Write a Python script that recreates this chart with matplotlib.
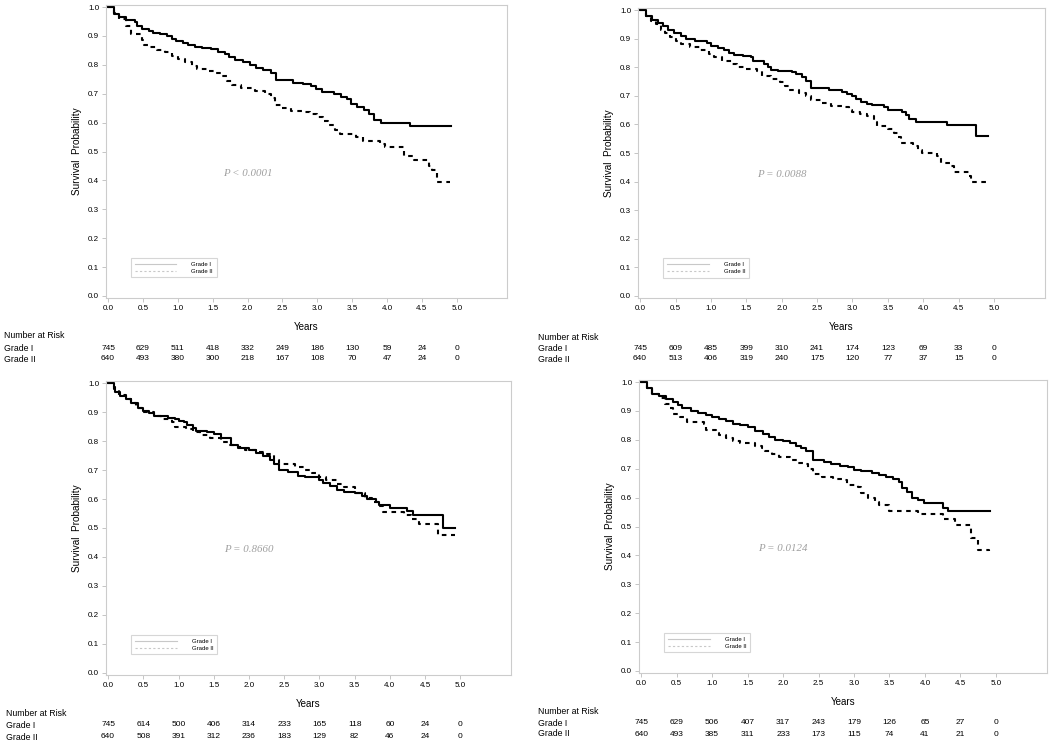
import matplotlib
matplotlib.use("Agg")
import matplotlib.pyplot as plt
import matplotlib.transforms as mtransforms
from matplotlib.lines import Line2D

plt.rcParams['font.family'] = ['Liberation Sans', 'DejaVu Sans']

W, H = 1050, 748

# ---- data ----
years = [0.0, 0.5, 1.0, 1.5, 2.0, 2.5, 3.0, 3.5, 4.0, 4.5, 5.0]
tick_labels = ['0.0', '0.5', '1.0', '1.5', '2.0', '2.5', '3.0', '3.5', '4.0', '4.5', '5.0']
ytick_vals = [0.0, 0.1, 0.2, 0.3, 0.4, 0.5, 0.6, 0.7, 0.8, 0.9, 1.0]
groups = ['Grade I', 'Grade II']
p_texts = ['P < 0.0001', 'P = 0.0088', 'P = 0.8660', 'P = 0.0124']

# panel A (top left)
a_g1_t = [0, 0.08, 0.16, 0.25, 0.39, 0.41, 0.48, 0.58, 0.65, 0.75, 0.84, 0.91, 0.98, 1.08, 1.15, 1.25,
          1.34, 1.48, 1.58, 1.67, 1.74, 1.82, 1.93, 2.03, 2.12, 2.22, 2.34, 2.41, 2.65, 2.79, 2.91,
          2.98, 3.07, 3.24, 3.34, 3.43, 3.48, 3.57, 3.67, 3.74, 3.81, 3.91, 4.33, 4.92]
a_g1_s = [1.0, 0.977, 0.965, 0.955, 0.948, 0.935, 0.925, 0.918, 0.91, 0.905, 0.898, 0.89, 0.883, 0.877,
          0.868, 0.862, 0.857, 0.853, 0.845, 0.838, 0.828, 0.818, 0.81, 0.80, 0.79, 0.782, 0.772,
          0.748, 0.738, 0.733, 0.725, 0.718, 0.705, 0.698, 0.69, 0.683, 0.663, 0.655, 0.645, 0.63,
          0.61, 0.60, 0.588, 0.588]
a_g2_t = [0, 0.08, 0.16, 0.25, 0.33, 0.48, 0.52, 0.58, 0.70, 0.82, 0.92, 1.0, 1.1, 1.2, 1.28, 1.45,
          1.55, 1.62, 1.70, 1.78, 1.9, 2.1, 2.25, 2.33, 2.4, 2.5, 2.62, 2.8, 2.9, 3.0, 3.08, 3.15,
          3.25, 3.33, 3.55, 3.65, 3.9, 3.97, 4.25, 4.38, 4.6, 4.65, 4.72, 4.9]
a_g2_s = [1.0, 0.98, 0.96, 0.935, 0.908, 0.885, 0.87, 0.86, 0.85, 0.845, 0.83, 0.82, 0.81, 0.795,
          0.785, 0.78, 0.77, 0.76, 0.745, 0.73, 0.72, 0.71, 0.70, 0.685, 0.66, 0.65, 0.64, 0.635,
          0.63, 0.62, 0.605, 0.59, 0.575, 0.56, 0.55, 0.535, 0.525, 0.515, 0.483, 0.47, 0.45,
          0.435, 0.395, 0.395]
a_risk1 = [745, 629, 511, 418, 332, 249, 186, 130, 59, 24, 0]
a_risk2 = [640, 493, 380, 300, 218, 167, 108, 70, 47, 24, 0]

# panel B (top right)
b_g1_t = [0, 0.08, 0.17, 0.25, 0.33, 0.40, 0.48, 0.58, 0.65, 0.78, 0.95, 1.0, 1.1, 1.18, 1.25, 1.32,
          1.45, 1.57, 1.6, 1.75, 1.8, 1.85, 1.95, 2.15, 2.2, 2.28, 2.35, 2.42, 2.67, 2.85, 2.92,
          3.0, 3.05, 3.12, 3.2, 3.28, 3.45, 3.5, 3.7, 3.75, 3.8, 3.9, 4.33, 4.75, 4.92]
b_g1_s = [1.0, 0.979, 0.965, 0.955, 0.945, 0.93, 0.92, 0.91, 0.90, 0.893, 0.885, 0.875, 0.868, 0.86,
          0.85, 0.843, 0.84, 0.835, 0.82, 0.81, 0.80, 0.79, 0.788, 0.783, 0.775, 0.765, 0.752,
          0.727, 0.72, 0.715, 0.708, 0.70, 0.69, 0.68, 0.672, 0.668, 0.66, 0.652, 0.645, 0.632,
          0.62, 0.61, 0.597, 0.56, 0.56]
b_g2_t = [0, 0.08, 0.15, 0.22, 0.3, 0.35, 0.42, 0.5, 0.58, 0.7, 0.85, 0.98, 1.05, 1.15, 1.3, 1.37,
          1.5, 1.65, 1.72, 1.85, 1.98, 2.05, 2.1, 2.25, 2.35, 2.42, 2.55, 2.7, 2.85, 2.95, 3.0,
          3.1, 3.2, 3.3, 3.35, 3.5, 3.58, 3.65, 3.68, 3.85, 3.92, 3.98, 4.2, 4.25, 4.38, 4.43,
          4.65, 4.67, 4.9]
b_g2_s = [1.0, 0.98, 0.96, 0.95, 0.93, 0.92, 0.905, 0.89, 0.88, 0.87, 0.86, 0.845, 0.835, 0.82,
          0.81, 0.802, 0.795, 0.785, 0.77, 0.76, 0.75, 0.735, 0.72, 0.71, 0.70, 0.685, 0.675,
          0.665, 0.66, 0.65, 0.645, 0.635, 0.63, 0.61, 0.595, 0.585, 0.57, 0.555, 0.535, 0.525,
          0.51, 0.50, 0.49, 0.465, 0.455, 0.435, 0.42, 0.40, 0.40]
b_risk1 = [745, 609, 485, 399, 310, 241, 174, 123, 69, 33, 0]
b_risk2 = [640, 513, 406, 319, 240, 175, 120, 77, 37, 15, 0]

# panel C (bottom left)
c_g1_t = [0, 0.08, 0.1, 0.17, 0.25, 0.33, 0.42, 0.5, 0.58, 0.65, 0.75, 0.85, 0.95, 1.0, 1.08, 1.12,
          1.2, 1.25, 1.4, 1.5, 1.6, 1.75, 1.85, 2.0, 2.1, 2.2, 2.3, 2.35, 2.42, 2.55, 2.7, 2.8,
          3.0, 3.05, 3.15, 3.25, 3.35, 3.5, 3.6, 3.68, 3.8, 3.85, 4.0, 4.25, 4.33, 4.75, 4.92]
c_g1_s = [1.0, 0.985, 0.97, 0.955, 0.945, 0.93, 0.915, 0.905, 0.895, 0.888, 0.885, 0.88, 0.875,
          0.87, 0.865, 0.855, 0.845, 0.835, 0.83, 0.825, 0.81, 0.785, 0.775, 0.77, 0.76, 0.75,
          0.735, 0.72, 0.70, 0.692, 0.68, 0.675, 0.667, 0.655, 0.645, 0.632, 0.625, 0.62, 0.61,
          0.60, 0.59, 0.58, 0.57, 0.56, 0.545, 0.50, 0.50]
c_g2_t = [0, 0.08, 0.15, 0.25, 0.33, 0.4, 0.48, 0.65, 0.75, 0.9, 0.95, 1.1, 1.2, 1.3, 1.45, 1.6,
          1.7, 1.85, 1.95, 2.1, 2.25, 2.35, 2.42, 2.65, 2.8, 2.9, 3.0, 3.1, 3.25, 3.35, 3.5,
          3.65, 3.75, 3.85, 3.9, 4.2, 4.3, 4.42, 4.68, 4.92]
c_g2_s = [1.0, 0.98, 0.96, 0.945, 0.93, 0.915, 0.90, 0.885, 0.875, 0.865, 0.85, 0.84, 0.83, 0.82,
          0.81, 0.795, 0.785, 0.78, 0.77, 0.762, 0.755, 0.735, 0.72, 0.71, 0.70, 0.69, 0.675,
          0.665, 0.652, 0.64, 0.62, 0.605, 0.59, 0.575, 0.555, 0.545, 0.53, 0.515, 0.477, 0.477]
c_risk1 = [745, 614, 500, 406, 314, 233, 165, 118, 60, 24, 0]
c_risk2 = [640, 508, 391, 312, 236, 183, 129, 82, 46, 24, 0]

# panel D (bottom right)
d_g1_t = [0, 0.08, 0.15, 0.25, 0.35, 0.45, 0.52, 0.58, 0.7, 0.8, 0.92, 1.0, 1.1, 1.2, 1.3, 1.4,
          1.5, 1.6, 1.72, 1.8, 1.88, 2.0, 2.1, 2.18, 2.25, 2.33, 2.42, 2.58, 2.67, 2.8, 2.92,
          3.0, 3.1, 3.25, 3.35, 3.45, 3.55, 3.63, 3.67, 3.75, 3.82, 3.9, 3.98, 4.25, 4.33, 4.92]
d_g1_s = [1.0, 0.98, 0.96, 0.95, 0.94, 0.93, 0.92, 0.91, 0.90, 0.893, 0.886, 0.878, 0.872, 0.865,
          0.855, 0.85, 0.845, 0.83, 0.82, 0.81, 0.80, 0.795, 0.788, 0.78, 0.77, 0.76, 0.73,
          0.723, 0.715, 0.71, 0.705, 0.697, 0.692, 0.685, 0.678, 0.672, 0.665, 0.655, 0.632,
          0.618, 0.60, 0.59, 0.58, 0.565, 0.555, 0.555]
d_g2_t = [0, 0.08, 0.15, 0.25, 0.33, 0.4, 0.45, 0.55, 0.65, 0.88, 0.92, 1.05, 1.1, 1.2, 1.3, 1.4,
          1.6, 1.7, 1.75, 1.85, 1.95, 2.1, 2.2, 2.3, 2.35, 2.42, 2.55, 2.7, 2.85, 2.9, 3.05,
          3.1, 3.2, 3.3, 3.35, 3.5, 3.9, 4.25, 4.42, 4.65, 4.75, 4.9]
d_g2_s = [1.0, 0.98, 0.96, 0.945, 0.925, 0.91, 0.89, 0.88, 0.86, 0.855, 0.835, 0.825, 0.815,
          0.805, 0.795, 0.79, 0.78, 0.77, 0.76, 0.75, 0.74, 0.73, 0.72, 0.715, 0.70, 0.68, 0.672,
          0.665, 0.66, 0.645, 0.635, 0.615, 0.60, 0.585, 0.575, 0.555, 0.543, 0.525, 0.505,
          0.46, 0.418, 0.415]
d_risk1 = [745, 629, 506, 407, 317, 243, 179, 126, 65, 27, 0]
d_risk2 = [640, 493, 385, 311, 233, 173, 115, 74, 41, 21, 0]

curves = [(a_g1_t, a_g1_s, a_g2_t, a_g2_s), (b_g1_t, b_g1_s, b_g2_t, b_g2_s),
          (c_g1_t, c_g1_s, c_g2_t, c_g2_s), (d_g1_t, d_g1_s, d_g2_t, d_g2_s)]
risks = [(a_risk1, a_risk2), (b_risk1, b_risk2), (c_risk1, c_risk2), (d_risk1, d_risk2)]

# ---- layout in pixels: axes left, top, width, height; then text rows ----
boxes = [(106, 5, 401, 293), (638, 8, 407, 290), (106, 381, 405, 294), (639, 380, 408, 293)]
rows = [(4, 327, 336, 348, 359), (538, 327, 337, 348, 359),
        (6, 704, 713, 725, 737), (538, 702, 711, 723, 734)]

fig = plt.figure(figsize=(W / 100, H / 100), dpi=100)

def fy(py):
    return 1 - py / H

for i in range(4):
    l, t, w, h = boxes[i]
    ax = fig.add_axes([l / W, 1 - (t + h) / H, w / W, h / H])
    g1t, g1s, g2t, g2s = curves[i]
    ax.step(g2t, g2s, where='post', color='black', lw=1.5, dashes=(2.2, 2.2))
    ax.step(g1t, g1s, where='post', color='black', lw=1.5)
    ax.set_xlim(-0.03, 5.72)
    ax.set_ylim(-0.007, 1.007)
    ax.set_xticks(years)
    ax.set_xticklabels(tick_labels)
    ax.set_yticks(ytick_vals)
    ax.set_yticklabels(['%.1f' % v for v in ytick_vals])
    ax.tick_params(labelsize=5.8, length=3, width=0.6, color='#bbbbbb', pad=2)
    for sp in ax.spines.values():
        sp.set_color('#cccccc')
        sp.set_linewidth(0.8)
    ax.set_ylabel('Survival  Probability', fontsize=7.2, labelpad=4)
    ax.text(2.0, 0.425, p_texts[i], ha='center', va='center', fontsize=7.8,
            style='italic', family='Liberation Serif', color='#a0a0a0')

    handles = [Line2D([], [], color='#c8c8c8', lw=0.8),
               Line2D([], [], color='#c8c8c8', lw=0.8, dashes=(2, 2))]
    leg = ax.legend(handles, groups, loc='lower left', bbox_to_anchor=(0.055, 0.06),
                    fontsize=4.3, frameon=True, fancybox=False, handlelength=7,
                    handletextpad=2.5, borderpad=0.6, labelspacing=0.3)
    leg.get_frame().set_edgecolor('#cccccc')
    leg.get_frame().set_linewidth(0.8)

    lx, yy, ny, r1, r2 = rows[i]
    ax.text(0.5, fy(yy), 'Years', ha='center', va='center', fontsize=7,
            transform=mtransforms.blended_transform_factory(ax.transAxes, fig.transFigure))
    fig.text(lx / W, fy(ny), 'Number at Risk', ha='left', va='center', fontsize=6.3)
    fig.text(lx / W, fy(r1), groups[0], ha='left', va='center', fontsize=6.3)
    fig.text(lx / W, fy(r2), groups[1], ha='left', va='center', fontsize=6.3)
    tr = mtransforms.blended_transform_factory(ax.transData, fig.transFigure)
    n1, n2 = risks[i]
    for x, a, b in zip(years, n1, n2):
        ax.text(x, fy(r1), str(a), ha='center', va='center', fontsize=6, transform=tr)
        ax.text(x, fy(r2), str(b), ha='center', va='center', fontsize=6, transform=tr)

fig.savefig('out.png', dpi=100)
